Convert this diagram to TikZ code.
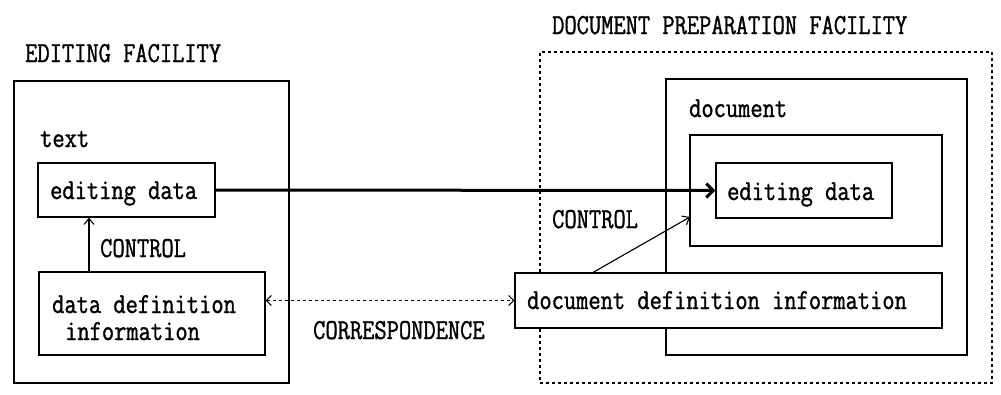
\documentclass[tikz,border=0pt]{standalone}
\usepackage{fontspec}
\setmonofont[FakeStretch=0.82,FakeBold=1.2]{Latin Modern Mono}
\usetikzlibrary{arrows.meta,calc}
\begin{document}
\begin{tikzpicture}[x=1pt,y=-1pt,
  every node/.style={font=\ttfamily\fontsize{29}{27}\selectfont},
  box/.style={draw,line width=1.2pt,inner sep=0pt,fill=white},
  dbox/.style={draw,line width=1.2pt,inner sep=0pt,dash pattern=on 3pt off 3pt},
  lbl/.style={anchor=west,inner sep=0pt},
  bl/.style={anchor=base west,inner sep=0pt},
  thin/.style={line width=1.1pt,-{Straight Barb[length=6pt,width=10pt,line width=1.1pt]}},
  thick/.style={line width=3pt,-{Straight Barb[length=7pt,width=14pt,line width=3pt]}},
  corr/.style={line width=1.1pt,dash pattern=on 3.5pt off 2.5pt,
    {Straight Barb[length=5pt,width=10pt,line width=1.1pt]}-{Straight Barb[length=5pt,width=10pt,line width=1.1pt]}}]
\useasboundingbox (0,0) rectangle (1001,394);
% left facility
\node[box,minimum width=275pt,minimum height=302pt] (leftfac) at (151.5,232) {};
\node[bl] (leftttl) at (25,62) {EDITING FACILITY};
\node[bl] (textlbl) at (40,147) {text};
\node[box,minimum width=177pt,minimum height=54pt] (edL) at (126.5,190) {};
\node[bl] (edLt) at (50,199) {editing data};
\node[box,minimum width=226pt,minimum height=83pt] (ddL) at (152,313.5) {};
\node[bl] (ddLt1) at (52,313) {data definition};
\node[bl] (ddLt2) at (65,340) {information};
\node[bl] (ctlL) at (100,257) {CONTROL};
% right facility
\node[dbox,minimum width=452pt,minimum height=331pt] (rightfac) at (766,217.5) {};
\node[bl] (rightttl) at (552,34) {DOCUMENT PREPARATION FACILITY};
\node[box,minimum width=301pt,minimum height=276pt] (doc) at (816.5,217) {};
\node[bl] (doclbl) at (689,117) {document};
\node[box,minimum width=252pt,minimum height=111pt] (inner) at (816,190.5) {};
\node[box,minimum width=176pt,minimum height=55pt] (edR) at (804,190.5) {};
\node[bl] (edRt) at (727,200) {editing data};
\node[box,minimum width=427pt,minimum height=55pt] (ddR) at (728.5,300.5) {};
\node[bl] (ddRt) at (527,309) {document definition information};
\node[bl] (ctlR) at (552,228) {CONTROL};
\node[bl] (corrlbl) at (313,339) {CORRESPONDENCE};
% connectors
\coordinate (ctlsrcL) at (89,272);
\coordinate (ctlsrcR) at (592,273);
\coordinate (ctldst) at (690,217);
\draw[thin] (ctlsrcL) -- (ctlsrcL |- edL.south);
\draw[thin] (ctlsrcR) -- (ctldst);
\draw[thick] (edL.east) -- (edR.west);
\draw[corr] (ddL.east |- ddR.west) -- (ddR.west);
\end{tikzpicture}
\end{document}
